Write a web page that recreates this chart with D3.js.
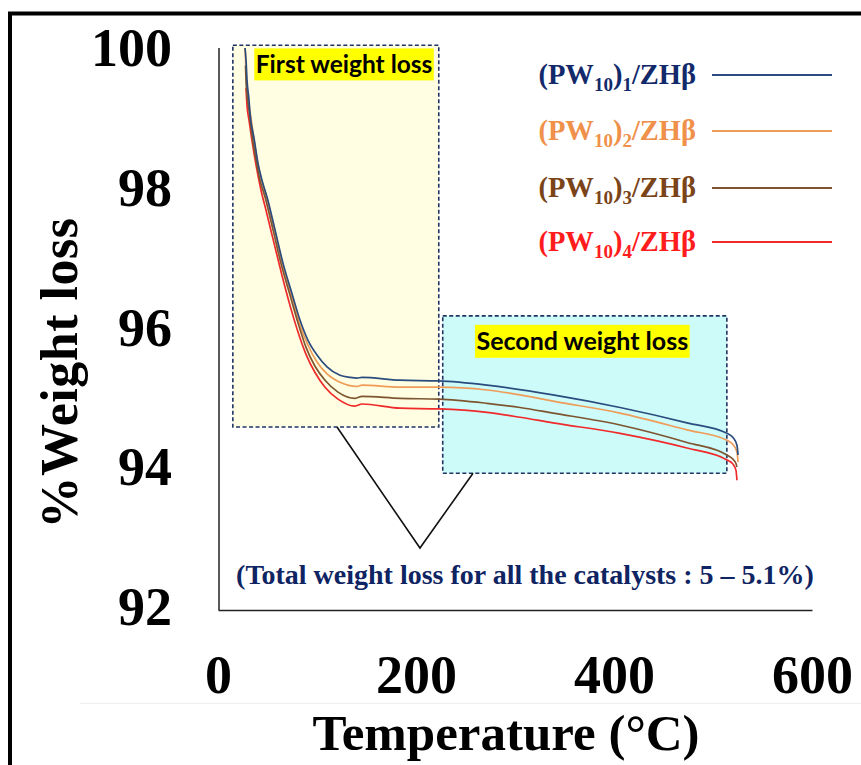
<!DOCTYPE html>
<html><head><meta charset="utf-8">
<script src="https://cdn.jsdelivr.net/npm/d3@7"></script>
<style>body{margin:0;background:#fff}svg{display:block}</style>
</head><body>
<svg id="c" width="861" height="765"></svg>
<script>
// ---- data ----
const xTicks = [0, 200, 400, 600];
const yTicks = [92, 94, 96, 98, 100];
const seriesSub = ["1", "2", "3", "4"];
const temp1 = [27.3,28.3,29.3,31.3,32.3,36.4,40.4,44.4,49.5,57.6,65.7,74.7,82.8,90.9,100.0,110.1,123.2,133.3,140.4,145.5,183.8,223.2,271.7,338.4,406.1,473.7,514.1,520.2,524.2,525.3];
const weight1 = [100.0,99.83,99.54,99.26,99.07,98.71,98.35,98.11,97.87,97.40,96.92,96.49,96.11,95.82,95.61,95.44,95.32,95.29,95.28,95.29,95.25,95.24,95.18,95.04,94.86,94.64,94.49,94.43,94.32,94.18];
const temp2 = [27.3,28.3,29.3,31.3,33.3,36.4,40.4,49.5,57.6,65.7,74.7,82.8,90.9,100.0,110.1,123.2,140.4,145.5,183.8,223.2,271.7,305.1,338.4,406.1,473.7,514.1,520.2,524.2,525.3];
const weight2 = [100.0,99.69,99.40,99.18,99.00,98.68,98.33,97.84,97.37,96.88,96.44,96.04,95.75,95.51,95.34,95.22,95.16,95.18,95.15,95.15,95.11,95.04,94.95,94.78,94.54,94.39,94.33,94.22,94.08];
const temp3 = [27.8,28.3,29.3,31.3,34.3,38.4,42.4,47.5,55.6,63.6,72.7,80.8,88.9,98.0,108.1,121.2,138.4,145.5,183.8,223.2,271.7,305.1,338.4,406.1,473.7,514.1,520.2,523.2,524.2];
const weight3 = [99.75,99.54,99.33,99.11,98.76,98.40,98.11,97.87,97.40,96.92,96.47,96.07,95.72,95.45,95.25,95.08,94.99,95.02,94.99,94.98,94.92,94.86,94.78,94.61,94.36,94.18,94.12,94.06,94.01];
const temp4 = [28.3,29.3,31.3,34.3,38.4,43.4,48.5,56.6,64.6,72.7,80.8,88.9,98.0,108.1,121.2,138.4,145.5,183.8,223.2,271.7,305.1,338.4,406.1,473.7,514.1,520.2,523.2,524.2];
const weight4 = [99.43,99.18,98.97,98.68,98.33,97.97,97.68,97.21,96.75,96.32,95.94,95.62,95.36,95.15,94.98,94.88,94.91,94.85,94.84,94.79,94.72,94.64,94.49,94.28,94.11,94.05,93.96,93.82];
// annotation regions (temperature / weight units)
const region1 = [15, 223, 100.04, 94.58];
const region2 = [227, 514, 96.17, 93.92];
const calloutT = [120.2, 204, 257.6];
const calloutW = [94.58, 92.85, 93.92];

// ---- styles ----
const lineColors = ["#2b4c7e", "#ee9c58", "#7d5630", "#f02a2a"];
const textColors = ["#12296a", "#ef914a", "#7a4418", "#ff1c1c"];
const serif = "'Liberation Serif','Times New Roman',serif";
const sans = "Lato,'Liberation Sans',sans-serif";

const svg = d3.select("#c");
const x = d3.scaleLinear().domain([0, 600]).range([218, 812]);
const y = d3.scaleLinear().domain([92, 100]).range([607.5, 48]);

// outer frame + faint artefact line
svg.append("rect").attr("x", 10).attr("y", 13.5).attr("width", 900).attr("height", 850)
  .attr("fill", "none").attr("stroke", "#000").attr("stroke-width", 4);
svg.append("line").attr("x1", 80).attr("x2", 861).attr("y1", 703.5).attr("y2", 703.5)
  .attr("stroke", "#eeeeee").attr("stroke-width", 1);

// regions
const boxes = [[region1, "#fffde2"], [region2, "#cdfbfa"]];
boxes.forEach(([r, fill]) => {
  svg.append("rect").attr("x", x(r[0])).attr("y", y(r[2]))
    .attr("width", x(r[1]) - x(r[0])).attr("height", y(r[3]) - y(r[2]))
    .attr("fill", fill).attr("stroke", "#1f3461").attr("stroke-width", 1.6)
    .attr("stroke-dasharray", "4,2.5");
});

// callout lines
svg.append("path")
  .attr("d", d3.line()(calloutT.map((t, i) => [x(t), y(calloutW[i])])))
  .attr("fill", "none").attr("stroke", "#111").attr("stroke-width", 1.6);

// axes
const gx = svg.append("g").attr("transform", `translate(0,${y(92) + 2.5})`)
  .call(d3.axisBottom(x).tickValues(xTicks).tickSize(0).tickPadding(45).tickFormat(d3.format("d")));
gx.select(".domain").attr("stroke", "#222").attr("stroke-width", 1.5);
gx.selectAll("text").attr("font-family", serif).attr("font-weight", "bold").attr("font-size", 54).attr("fill", "#000");

const gy = svg.append("g").attr("transform", `translate(${x(0) + 1},0)`)
  .call(d3.axisLeft(y).tickValues(yTicks).tickSize(0).tickPadding(47).tickFormat(d3.format("d")));
gy.select(".domain").attr("stroke", "#222").attr("stroke-width", 1.5)
  .attr("d", `M0,${y(100)}V${y(92) + 2.5}`);
gy.selectAll("text").attr("font-family", serif).attr("font-weight", "bold").attr("font-size", 54).attr("fill", "#000");

// axis titles
svg.append("text").attr("x", 506).attr("y", 750).attr("text-anchor", "middle")
  .attr("font-family", serif).attr("font-weight", "bold").attr("font-size", 51).text("Temperature (°C)");
svg.append("text").attr("transform", "translate(77,373) rotate(-90)").attr("text-anchor", "middle")
  .attr("font-family", serif).attr("font-weight", "bold").attr("font-size", 52).attr("letter-spacing", "0.5")
  .text("%Weight loss");

// curves
const series = [[temp4, weight4, 3], [temp2, weight2, 1], [temp3, weight3, 2], [temp1, weight1, 0]];
const line = d3.line().x(d => x(d[0])).y(d => y(d[1])).curve(d3.curveMonotoneX);
series.forEach(([t, w, ci]) => {
  svg.append("path").datum(t.map((v, i) => [v, w[i]]))
    .attr("d", line).attr("fill", "none").attr("stroke", lineColors[ci]).attr("stroke-width", 1.7);
});

// region labels with highlight
function label(txt, tx, wy, fs) {
  const g = svg.append("g");
  const t = g.append("text").attr("x", x(tx)).attr("y", y(wy)).attr("text-anchor", "middle")
    .attr("dominant-baseline", "central")
    .attr("font-family", sans).attr("font-weight", "bold").attr("font-size", fs).attr("fill", "#000").text(txt);
  const b = t.node().getBBox();
  g.insert("rect", "text").attr("x", b.x - 1.5).attr("y", b.y - 0.5).attr("width", b.width + 3).attr("height", b.height + 3)
    .attr("fill", "#ffff00");
}
label("First weight loss", 127.3, 99.78, 24.5);
label("Second weight loss", 368, 95.82, 25);

// total note
svg.append("text").attr("x", 525).attr("y", 584).attr("text-anchor", "middle")
  .attr("font-family", serif).attr("font-weight", "bold").attr("font-size", 28).attr("fill", "#0f2462")
  .text("(Total weight loss for all the catalysts : 5 – 5.1%)");

// legend
const legY = [75, 131, 188, 242];
seriesSub.forEach((s, i) => {
  const t = svg.append("text").attr("x", 696).attr("y", legY[i] + 9).attr("text-anchor", "end")
    .attr("font-family", serif).attr("font-weight", "bold").attr("font-size", 28.5).attr("fill", textColors[i]);
  t.append("tspan").text("(PW");
  t.append("tspan").attr("font-size", 19).attr("dy", 7).text("10");
  t.append("tspan").attr("dy", -7).text(")");
  t.append("tspan").attr("font-size", 19).attr("dy", 7).text(s);
  t.append("tspan").attr("dy", -7).text("/ZHβ");
  svg.append("line").attr("x1", 712).attr("x2", 832).attr("y1", legY[i]).attr("y2", legY[i])
    .attr("stroke", lineColors[i]).attr("stroke-width", 2);
});
</script>
</body></html>
